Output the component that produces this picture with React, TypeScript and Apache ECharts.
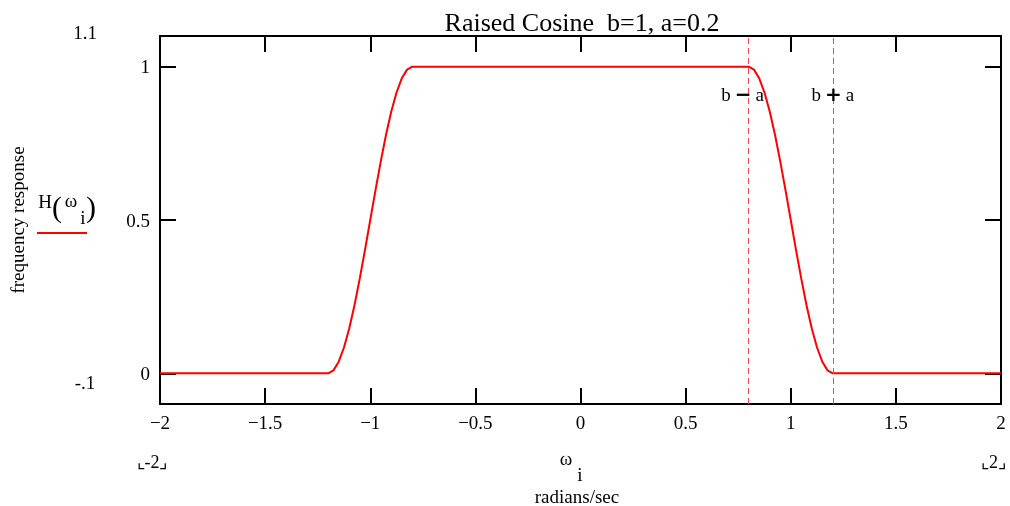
import React, { useEffect, useRef } from "react";
import * as echarts from "echarts";

const titleText = "Raised Cosine  b=1, a=0.2";
const xTicks = [-2, -1.5, -1, -0.5, 0, 0.5, 1, 1.5, 2];
const yTicks = [0, 0.5, 1];
const freq = [
  -2, -1.2, -1.175, -1.15, -1.125, -1.1, -1.075, -1.05, -1.025, -1, -0.975, -0.95, -0.925, -0.9, -0.875,
  -0.85, -0.825, -0.8, 0.8, 0.825, 0.85, 0.875, 0.9, 0.925, 0.95, 0.975, 1, 1.025, 1.05, 1.075, 1.1,
  1.125, 1.15, 1.175, 1.2, 2,
];
const response = [
  0, 0, 0.0096, 0.0381, 0.0843, 0.1464, 0.2222, 0.3087, 0.4025, 0.5, 0.5975, 0.6913, 0.7778, 0.8536,
  0.9157, 0.9619, 0.9904, 1, 1, 0.9904, 0.9619, 0.9157, 0.8536, 0.7778, 0.6913, 0.5975, 0.5, 0.4025,
  0.3087, 0.2222, 0.1464, 0.0843, 0.0381, 0.0096, 0, 0,
];
const markerX = [0.8, 1.2];
const markerY = 0.91;
const markerOps = ["\u2212", "+"];
const markerShift = [-6, 0];
const yMin = -0.1;
const yMax = 1.1;
const xRangeLabels = ["⌞-2⌟", "⌞2⌟"];
const yRangeLabels = ["1.1", "-.1"];

const FONT = "'Liberation Serif', 'DejaVu Serif', serif";
const fmt = (v: number) => (v < 0 ? "\u2212" + String(-v) : String(v));
const txt = (text: string, x: number, y: number, size = 19, align = "center") => ({
  type: "text",
  x,
  y,
  style: { text, font: `${size}px ${FONT}`, fill: "#000", align, verticalAlign: "middle" },
});

export default function App() {
  const ref = useRef<HTMLDivElement>(null);
  useEffect(() => {
    document.body.style.margin = "0";
    const chart = echarts.init(ref.current!, null, { renderer: "svg" });
    const axisLine = { show: true, onZero: false, lineStyle: { color: "#000", width: 2 } };
    const tick = { show: true, inside: true, length: 16, lineStyle: { color: "#000", width: 2 } };
    const data = freq.map((x, i) => [x, response[i]]);
    chart.setOption({
      animation: false,
      title: {
        text: titleText,
        left: 577,
        top: 4,
        textAlign: "center",
        textStyle: { fontFamily: FONT, fontSize: 26, fontWeight: "normal", color: "#000" },
      },
      grid: { left: 153, right: 9, top: 36, bottom: 102, containLabel: false },
      xAxis: [
        {
          type: "value",
          min: -2,
          max: 2,
          interval: 0.5,
          position: "bottom",
          axisLine,
          axisTick: tick,
          splitLine: { show: false },
          axisLabel: {
            customValues: xTicks,
            formatter: fmt,
            margin: 9,
            fontFamily: FONT,
            fontSize: 19,
            color: "#000",
          },
        },
        {
          type: "value",
          min: -2,
          max: 2,
          interval: 0.5,
          position: "top",
          axisLine,
          axisTick: tick,
          splitLine: { show: false },
          axisLabel: { show: false },
        },
      ],
      yAxis: [
        {
          type: "value",
          min: yMin,
          max: yMax,
          position: "left",
          axisLine,
          axisTick: { ...tick, customValues: yTicks },
          splitLine: { show: false },
          axisLabel: {
            customValues: yTicks,
            formatter: fmt,
            margin: 10,
            fontFamily: FONT,
            fontSize: 19,
            color: "#000",
          },
          name: "frequency response",
          nameLocation: "middle",
          nameGap: 133,
          nameRotate: 90,
          nameTextStyle: { fontFamily: FONT, fontSize: 19, color: "#000" },
        },
        {
          type: "value",
          min: yMin,
          max: yMax,
          position: "right",
          axisLine,
          axisTick: { ...tick, customValues: yTicks },
          splitLine: { show: false },
          axisLabel: { show: false },
        },
      ],
      series: [
        {
          type: "line",
          data,
          showSymbol: false,
          symbol: "none",
          lineStyle: { color: "#ff0000", width: 2 },
          itemStyle: { color: "#ff0000" },
          markLine: {
            silent: true,
            symbol: ["none", "none"],
            label: { show: false },
            lineStyle: { color: "#ec4a52", width: 1, type: [6, 4] },
            data: markerX.map((x) => ({ xAxis: x })),
          },
          z: 3,
        },
        {
          type: "scatter",
          symbolSize: 0,
          itemStyle: { opacity: 1 },
          data: markerX.map((x, i) => ({
            value: [x, markerY],
            op: markerOps[i],
            label: { offset: [markerShift[i], 0] },
          })),
          label: {
            show: true,
            position: "inside",
            color: "#000",
            opacity: 1,
            formatter: (p: any) => "{t|b}{o|" + p.data.op + "}{t|a}",
            rich: {
              t: { fontFamily: FONT, fontSize: 19, color: "#000" },
              o: {
                fontFamily: "'DejaVu Sans', sans-serif",
                fontSize: 20,
                fontWeight: "bold",
                color: "#000",
                padding: [0, 4, 0, 4],
              },
            },
          },
          z: 5,
        },
      ],
      graphic: [
        txt(yRangeLabels[0], 85, 32),
        txt(yRangeLabels[1], 85, 382),
        txt(xRangeLabels[0], 152, 462, 18),
        txt(xRangeLabels[1], 1006, 462, 18, "right"),
        txt("ω", 566, 458),
        txt("i", 580, 474),
        txt("radians/sec", 577, 496),
        txt("H", 45, 201),
        txt("(", 57, 206, 30),
        txt("ω", 71, 200),
        txt("i", 83, 217),
        txt(")", 91, 206, 30),
        { type: "line", shape: { x1: 37, y1: 233, x2: 87, y2: 233 }, style: { stroke: "#ff0000", lineWidth: 2 } },
      ],
    });
    return () => chart.dispose();
  }, []);
  return <div ref={ref} style={{ position: "fixed", left: 0, top: 0, width: 1010, height: 506 }} />;
}
